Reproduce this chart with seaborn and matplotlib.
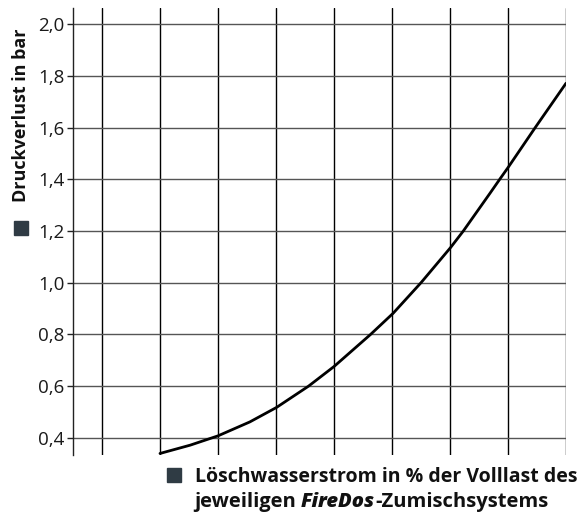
import seaborn as sns
import matplotlib.pyplot as plt

# Daten
durchfluss = [50.0, 55.2, 60.0, 65.5, 70.1, 75.6, 80.0, 86.3, 90.2, 95.0,
              100.1, 102.3, 106.9, 108.7, 110.0, 114.7, 120.0]
druckverlust = [0.340, 0.372, 0.408, 0.462, 0.518, 0.600, 0.676, 0.800, 0.882, 1.000,
                1.136, 1.200, 1.346, 1.404, 1.445, 1.600, 1.771]
y_ticks = [0.4, 0.6, 0.8, 1.0, 1.2, 1.4, 1.6, 1.8, 2.0]
y_ticklabels = ['0,4', '0,6', '0,8', '1,0', '1,2', '1,4', '1,6', '1,8', '2,0']
x_grid = [40, 50, 60, 70, 80, 90, 100, 110, 120]

sns.set_style('white')
plt.rcParams['font.family'] = ['Open Sans', 'DejaVu Sans']

fig = plt.figure(figsize=(5.83, 5.21), dpi=100)
ax = fig.add_axes([73 / 583, 1 - 455 / 521, (566 - 73) / 583, (455 - 8) / 521])

sns.lineplot(x=durchfluss, y=druckverlust, ax=ax, color='black', linewidth=2)

ax.set_xlim(35, 120)
ax.set_ylim(0.334, 2.062)
ax.set_yticks(y_ticks)
ax.set_yticklabels(y_ticklabels, fontsize=13.5, color='#1a1a1a')
ax.set_xticks(x_grid)
ax.set_xticklabels([])
ax.tick_params(axis='y', length=4, width=1, color='#222222', pad=2, left=True)
ax.tick_params(axis='x', length=0)

for s in ['top', 'right', 'bottom']:
    ax.spines[s].set_visible(False)
ax.spines['left'].set_color('#222222')
ax.spines['left'].set_linewidth(1)

ax.grid(axis='y', color='#555555', linewidth=1)
ax.grid(axis='x', color='black', linewidth=1)
ax.set_axisbelow(True)

# y-Achsenbeschriftung
fig.text(21 / 583, 1 - 115 / 521, 'Druckverlust in bar', rotation=90,
         ha='center', va='center', fontsize=13, fontweight='bold', color='#111111')
fig.patches.append(plt.Rectangle((14 / 583, 1 - 235 / 521), 14 / 583, 14 / 521,
                                 transform=fig.transFigure, color='#2f3b44'))

# x-Achsenbeschriftung
fig.patches.append(plt.Rectangle((167 / 583, 1 - 482 / 521), 14 / 583, 14 / 521,
                                 transform=fig.transFigure, color='#2f3b44'))
fig.text(195 / 583, 1 - 482 / 521, 'Löschwasserstrom in % der Volllast des',
         ha='left', va='baseline', fontsize=14, fontweight='bold', color='#111111')

fig.canvas.draw()
r = fig.canvas.get_renderer()
x0 = 194 / 583
yb = 1 - 507 / 521
teile = [('jeweiligen ', 'normal', 'bold'), ('FireDos', 'italic', 'heavy'),
         ('-Zumischsystems', 'normal', 'bold')]
for txt, st, wt in teile:
    t = fig.text(x0, yb, txt, ha='left', va='baseline', fontsize=14.5,
                 fontstyle=st, fontweight=wt, color='#111111')
    bb = t.get_window_extent(renderer=r)
    x0 = bb.x1 / fig.bbox.width

fig.savefig('out.png', dpi=100)
